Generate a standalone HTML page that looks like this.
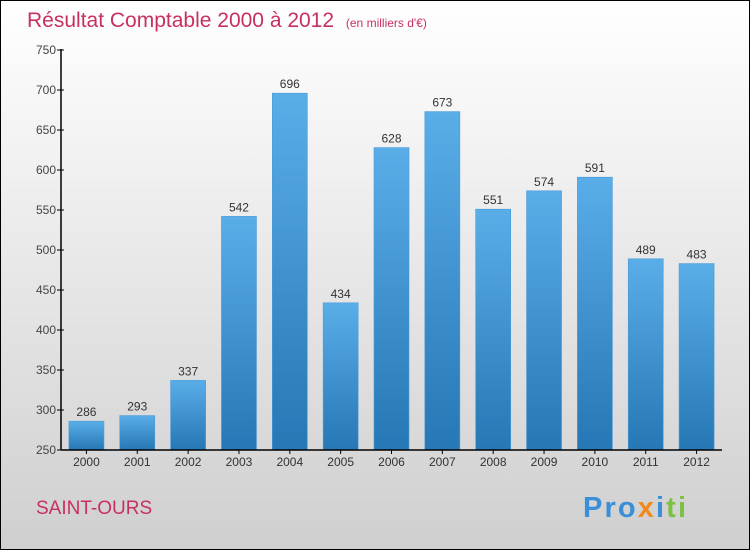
<!DOCTYPE html>
<html><head><meta charset="utf-8"><style>
html,body{margin:0;padding:0}
body{width:750px;height:550px;overflow:hidden;font-family:"Liberation Sans",sans-serif}
</style></head><body>
<svg width="750" height="550" xmlns="http://www.w3.org/2000/svg" id="svg">
<defs>
<linearGradient id="bg" x1="0" y1="0" x2="0" y2="1"><stop offset="0" stop-color="#ffffff"/><stop offset="1" stop-color="#cfcfcf"/></linearGradient>
<linearGradient id="bar" x1="0" y1="0" x2="0" y2="1"><stop offset="0" stop-color="#5aaee8"/><stop offset="1" stop-color="#2677b5"/></linearGradient>
</defs>
<rect x="0.5" y="0.5" width="749" height="549" fill="url(#bg)" stroke="#000"/>
<text x="27" y="27" font-size="21" fill="#c8305f">Résultat Comptable 2000 à 2012 <tspan font-size="12" dx="6">(en milliers d'€)</tspan></text>
<text x="36" y="514" font-size="19" fill="#c8305f">SAINT-OURS</text>
<g font-size="29" font-weight="bold">
<text x="583" y="517" textLength="103" lengthAdjust="spacing"><tspan fill="#3a8fd8">Pro</tspan><tspan fill="#f08a1c">x</tspan><tspan fill="#3a8fd8">i</tspan><tspan fill="#7cc242">ti</tspan></text>
</g>
<g id="plot"></g>
</svg>
<script>
const categories=["2000","2001","2002","2003","2004","2005","2006","2007","2008","2009","2010","2011","2012"];
const values=[286,293,337,542,696,434,628,673,551,574,591,489,483];
const yTicks=[250,300,350,400,450,500,550,600,650,700,750];
const X0=61,X1=722,Y0=450,Y1=50,VMIN=250,VMAX=750;
const step=(X1-X0)/categories.length;
const y=v=>Y0-(v-VMIN)/(VMAX-VMIN)*(Y0-Y1);
const xc=i=>X0+step*(i+0.5);
const NS="http://www.w3.org/2000/svg";
const g=document.getElementById('plot');
function mk(t,a,txt){const e=document.createElementNS(NS,t);for(const k in a)e.setAttribute(k,a[k]);if(txt!=null)e.textContent=txt;g.appendChild(e);return e;}
values.forEach((v,i)=>{
 const r=mk('rect',{x:xc(i)-17.5,y:y(v),width:35,height:Y0-y(v),fill:'url(#bar)',stroke:'#4a9ad8','stroke-width':0.6});
 
 
 const t=mk('text',{x:xc(i),y:y(v)-5,'text-anchor':'middle','font-size':12,fill:'#333'},String(v));
 
 
 const c=mk('text',{x:xc(i),y:Y0+16,'text-anchor':'middle','font-size':12,fill:'#333'},categories[i]);
 
 
 const tk=mk('line',{x1:xc(i),x2:xc(i),y1:Y0,y2:Y0+4,stroke:'#000'});
 
 
});
yTicks.forEach(v=>{
 const l=mk('line',{x1:X0-4,x2:X0+3,y1:y(v),y2:y(v),stroke:'#000'});
 
 
 const t=mk('text',{x:X0-5,y:y(v)+4,'text-anchor':'end','font-size':12,fill:'#444'},String(v));
 
 
});
const ya=mk('line',{x1:X0,x2:X0,y1:Y1-1,y2:Y0,stroke:'#000','stroke-width':1.5});


const xa=mk('line',{x1:X0,x2:X1,y1:Y0,y2:Y0,stroke:'#000','stroke-width':1.5});


</script>
</body></html>
